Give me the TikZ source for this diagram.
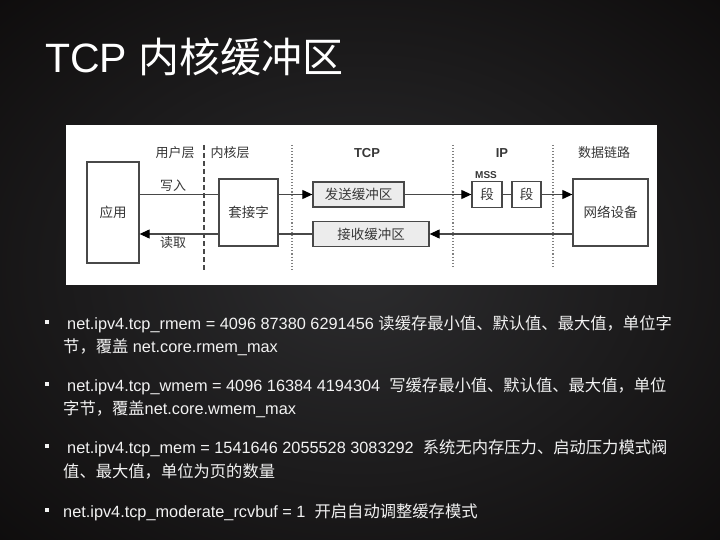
\documentclass[tikz,border=0pt]{standalone}
\usepackage{fontspec}
\setmainfont{Liberation Sans}
\newfontfamily\cjk{Noto Sans CJK SC}
\usetikzlibrary{arrows.meta}
\definecolor{bgin}{RGB}{44,44,46}
\definecolor{bgout}{RGB}{12,10,10}
\definecolor{boxline}{RGB}{72,72,72}
\definecolor{dtxt}{RGB}{55,55,55}
\definecolor{buf}{RGB}{236,236,236}
\definecolor{txt}{RGB}{242,242,242}
\tikzset{
  box/.style={draw=boxline, line width=1.3pt, fill=white, inner sep=0pt, text=dtxt,
              font=\cjk\fontsize{13.5}{15}\selectfont},
  bufbox/.style={box, fill=buf},
  lbl/.style={text=dtxt, inner sep=0pt, font=\cjk\fontsize{13}{15}\selectfont},
  hdr/.style={text=dtxt, inner sep=0pt, font=\bfseries\fontsize{13}{15}\selectfont},
  conn/.style={draw=boxline, line width=1.1pt},
  arr/.style={conn, -{Triangle[length=10pt,width=9pt,fill=black,color=black]}},
  sep/.style={draw=boxline, line width=1.1pt},
  bul/.style={fill=txt, minimum size=4pt, inner sep=0pt},
  btxt/.style={text=txt, inner sep=0pt, anchor=base west, font=\fontsize{16.3}{19}\selectfont},
}
\begin{document}
\begin{tikzpicture}[x=1pt,y=-1pt]
\useasboundingbox (0,0) rectangle (720,540);
\shade[inner color=bgin, outer color=bgout] (-200,-150) rectangle (920,690);
% title
\node[anchor=base west, inner sep=0pt, text=white, font=\fontsize{41}{48}\selectfont] (title) at (45,73) {TCP \cjk 内核缓冲区};
% panel
\fill[white] (66,125) rectangle (657,285);
% separators
\draw[sep, dash pattern=on 5pt off 3pt] (204,145) -- (204,272);
\draw[sep, dotted, draw=gray] (292,145) -- (292,272);
\draw[sep, dotted, draw=gray] (453,145) -- (453,267);
\draw[sep, dotted, draw=gray] (553,145) -- (553,267);
% boxes
\node[box, minimum width=52pt, minimum height=101pt] (app) at (113,212.5) {应用};
\node[box, minimum width=59pt, minimum height=67pt] (sock) at (248.5,212.5) {套接字};
\node[bufbox, minimum width=91pt, minimum height=25pt] (send) at (358.5,194.5) {发送缓冲区};
\node[bufbox, minimum width=116pt, minimum height=25pt] (recv) at (371,234) {接收缓冲区};
\node[box, minimum width=30pt, minimum height=26pt] (seg1) at (487,194.5) {段};
\node[box, minimum width=29pt, minimum height=26pt] (seg2) at (526.5,194.5) {段};
\node[box, minimum width=75pt, minimum height=67pt] (net) at (610.5,212.5) {网络设备};
% labels
\node[lbl] (user) at (175,153) {用户层};
\node[lbl] (kern) at (230,153) {内核层};
\node[hdr] (tcp) at (367,153) {TCP};
\node[hdr] (ip) at (502,153) {IP};
\node[lbl] (link) at (604,153) {数据链路};
\node[hdr, font=\bfseries\fontsize{10}{12}\selectfont] (mss) at (486,175) {MSS};
\node[lbl] (write) at (173,186) {写入};
\node[lbl] (read) at (173,243) {读取};
% connectors
\draw[conn] (app.east |- send.west) -- (sock.west |- send.west);
\draw[arr] (sock.west |- recv.west) -- (app.east |- recv.west);
\draw[arr] (sock.east |- send.west) -- (send.west);
\draw[arr] (send.east) -- (seg1.west);
\draw[conn] (seg1.east) -- (seg2.west);
\draw[arr] (seg2.east) -- (net.west |- seg2.east);
\draw[arr] (net.west |- recv.east) -- (recv.east);
\draw[conn] (recv.west) -- (sock.east |- recv.west);
% bullets
\node[bul] (b1) at (47,322) {};
\node[btxt] (t1a) at (67,329) {net.ipv4.tcp\_rmem = 4096 87380 6291456 {\cjk 读缓存最小值、默认值、最大值，单位字}};
\node[btxt] (t1b) at (63,352) {{\cjk 节，覆盖} net.core.rmem\_max};
\node[bul] (b2) at (47,384) {};
\node[btxt] (t2a) at (67,391) {net.ipv4.tcp\_wmem = 4096 16384 4194304 \ {\cjk 写缓存最小值、默认值、最大值，单位}};
\node[btxt] (t2b) at (63,414) {{\cjk 字节，覆盖}net.core.wmem\_max};
\node[bul] (b3) at (47,446) {};
\node[btxt] (t3a) at (67,453) {net.ipv4.tcp\_mem = 1541646 2055528 3083292 \ {\cjk 系统无内存压力、启动压力模式阀}};
\node[btxt] (t3b) at (63,477) {{\cjk 值、最大值，单位为页的数量}};
\node[bul] (b4) at (47,510) {};
\node[btxt] (t4a) at (63,517) {net.ipv4.tcp\_moderate\_rcvbuf = 1 \ {\cjk 开启自动调整缓存模式}};
\end{tikzpicture}
\end{document}
